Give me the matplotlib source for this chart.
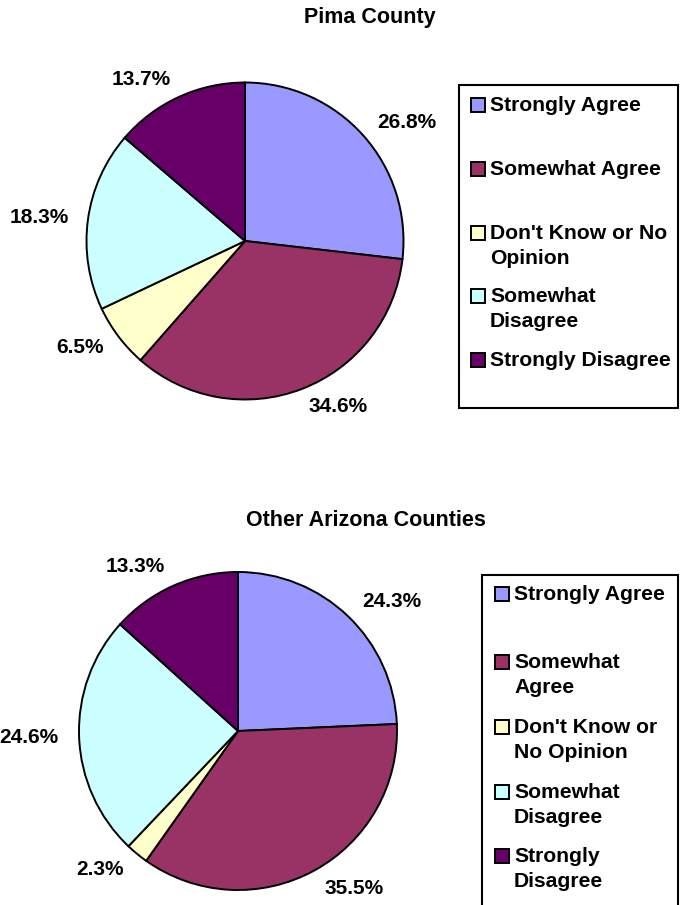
import matplotlib
matplotlib.use("Agg")
import matplotlib.pyplot as plt
from matplotlib.patches import Rectangle

plt.rcParams['font.family'] = ['Liberation Sans', 'DejaVu Sans']

categories = ["Strongly Agree", "Somewhat Agree", "Don't Know or No Opinion",
              "Somewhat Disagree", "Strongly Disagree"]
pima_values = [26.8, 34.6, 6.5, 18.3, 13.7]
other_values = [24.3, 35.5, 2.3, 24.6, 13.3]
colors = ["#9999FF", "#993366", "#FFFFCC", "#CCFFFF", "#660066"]

pima_title = "Pima County"
other_title = "Other Arizona Counties"

# legend labels as wrapped in each chart
pima_legend = ["Strongly Agree", "Somewhat Agree", "Don't Know or No\nOpinion",
               "Somewhat\nDisagree", "Strongly Disagree"]
other_legend = ["Strongly Agree", "Somewhat\nAgree", "Don't Know or\nNo Opinion",
                "Somewhat\nDisagree", "Strongly\nDisagree"]

W, H = 684, 905
fig = plt.figure(figsize=(W / 100, H / 100), dpi=100)


def fx(x):
    return x / W


def fy(y):
    return 1 - y / H


def draw_pie(cx, cy, r, values, ld):
    ax = fig.add_axes([fx(cx - r), fy(cy + r), 2 * r / W, 2 * r / H])
    ax.pie(values, colors=colors, startangle=90, counterclock=False,
           labels=[f"{v:.1f}%" for v in values], labeldistance=ld,
           wedgeprops=dict(edgecolor="black", linewidth=1.4),
           textprops=dict(fontsize=15, fontweight="bold", color="black"))
    ax.set_xlim(-1, 1)
    ax.set_ylim(-1, 1)
    ax.set_aspect("equal")
    return ax


def draw_legend(box, marker_x, text_x, rows, labels):
    x0, y0, x1, y1 = box
    fig.patches.append(Rectangle((fx(x0), fy(y1)), (x1 - x0) / W, (y1 - y0) / H,
                                 transform=fig.transFigure, fill=False,
                                 edgecolor="black", linewidth=1.5))
    s = 14
    for yc, lab, col in zip(rows, labels, colors):
        fig.patches.append(Rectangle((fx(marker_x), fy(yc + s / 2)), s / W, s / H,
                                     transform=fig.transFigure, facecolor=col,
                                     edgecolor="black", linewidth=1.4))
        fig.text(fx(text_x), fy(yc - 9), lab, ha="left", va="top",
                 fontsize=15.2, fontweight="bold", linespacing=1.38)


fig.text(fx(370), fy(18), pima_title, ha="center", va="center",
         fontsize=15.5, fontweight="bold")
fig.text(fx(366), fy(521), other_title, ha="center", va="center",
         fontsize=15.5, fontweight="bold")

draw_pie(245, 241, 158.5, pima_values, 1.12)
draw_pie(238, 731, 159, other_values, 1.13)

draw_legend((459, 85, 678, 408), 471, 490, [105, 169, 233, 296, 360], pima_legend)
draw_legend((482, 575, 678, 912), 495, 514, [594, 662, 727, 792, 856], other_legend)

fig.savefig("out.png", dpi=100, facecolor="white")
